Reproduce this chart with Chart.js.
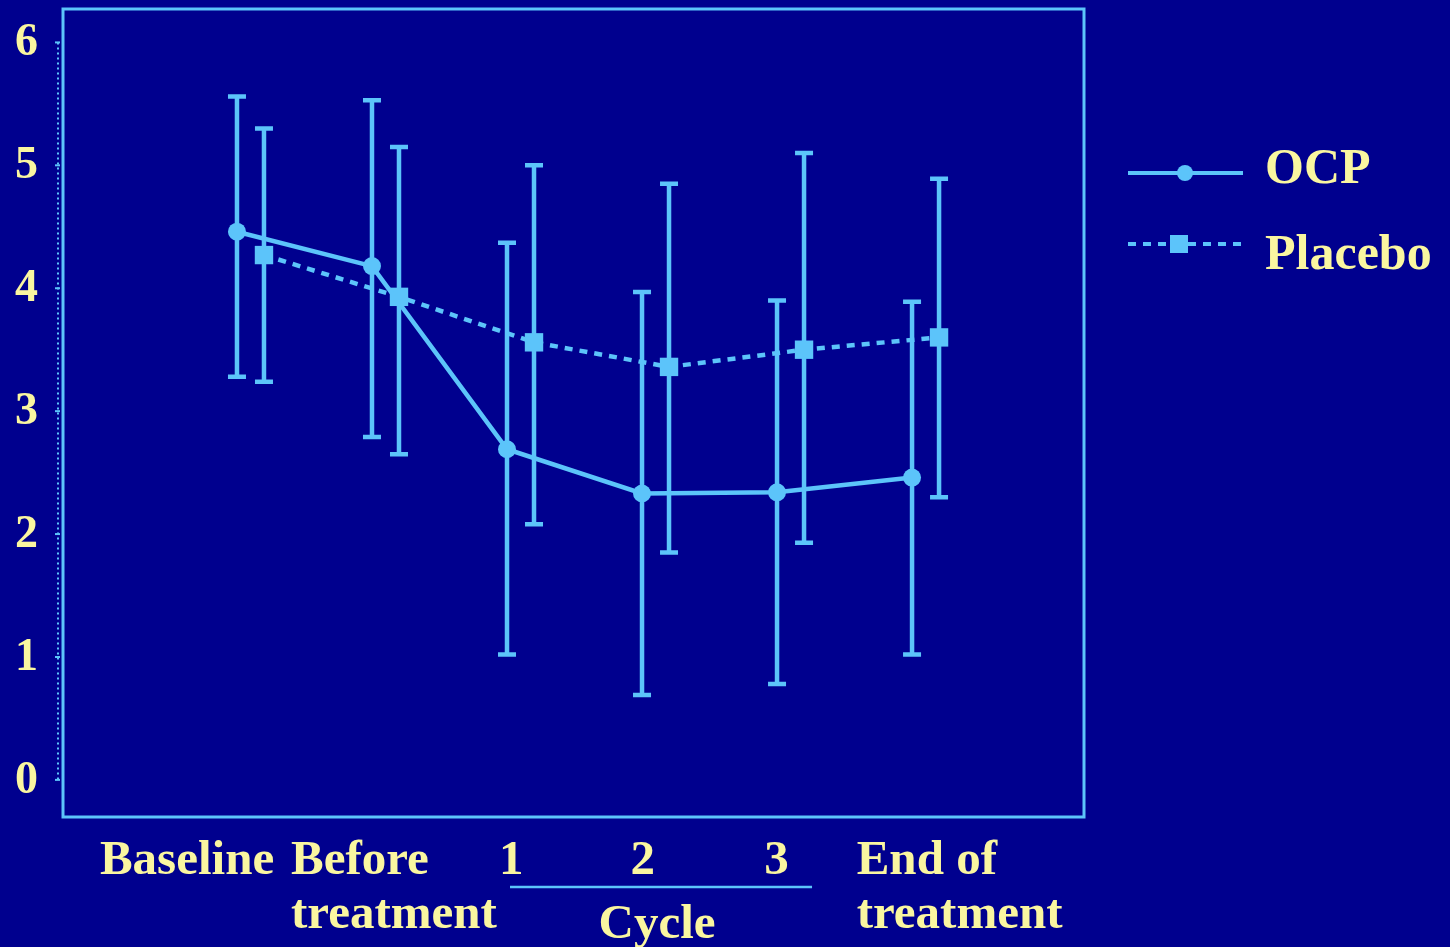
<!DOCTYPE html>
<html>
<head>
<meta charset="utf-8">
<script src="https://cdn.jsdelivr.net/npm/chart.js@4"></script>
<style>
  html, body { margin: 0; padding: 0; background: #00008E; }
  canvas { display: block; }
</style>
</head>
<body>
<canvas id="c" width="1450" height="947"></canvas>
<script>
// ---- Data ----
const categories = [["Baseline"], ["Before", "treatment"], ["1"], ["2"], ["3"], ["End of", "treatment"]];
const ocpMean   = [4.46, 4.18, 2.69, 2.33, 2.34, 2.46];
const ocpUpper  = [5.56, 5.53, 4.37, 3.97, 3.90, 3.89];
const ocpLower  = [3.28, 2.79, 1.02, 0.69, 0.78, 1.02];
const plaMean   = [4.27, 3.93, 3.56, 3.36, 3.50, 3.60];
const plaUpper  = [5.30, 5.15, 5.00, 4.85, 5.10, 4.89];
const plaLower  = [3.24, 2.65, 2.08, 1.85, 1.93, 2.30];
const yTicks    = [0, 1, 2, 3, 4, 5, 6];
const seriesNames = ["OCP", "Placebo"];
const groupLabel = "Cycle";

// ---- Styling ----
const BG = "#00008E";
const LINE = "#5CC4FA";
const TEXT = "#FAF6A0";
const FONT = "'Liberation Serif', 'Times New Roman', serif";
const PLACEBO_SHIFT = 0.2;

const ocpPts = ocpMean.map((v, i) => ({ x: i, y: v }));
const plaPts = plaMean.map((v, i) => ({ x: i + PLACEBO_SHIFT, y: v }));

const decor = {
  id: "decor",
  beforeDraw(chart) {
    const ctx = chart.ctx;
    ctx.save();
    ctx.fillStyle = BG;
    ctx.fillRect(0, 0, chart.width, chart.height);
    ctx.restore();
  },
  beforeDatasetsDraw(chart) {
    const ctx = chart.ctx, xs = chart.scales.x, ys = chart.scales.y, a = chart.chartArea;
    ctx.save();
    // y tick labels (from the y scale's ticks)
    ctx.fillStyle = TEXT;
    ctx.font = "bold 46px " + FONT;
    ctx.textAlign = "right";
    ctx.textBaseline = "middle";
    ys.ticks.forEach(t => ctx.fillText(String(t.value), 38, ys.getPixelForValue(t.value) + 1));
    // dotted axis line with small ticks
    ctx.strokeStyle = LINE;
    ctx.lineWidth = 2;
    ctx.setLineDash([2, 3]);
    ctx.beginPath();
    ctx.moveTo(58, ys.getPixelForValue(6));
    ctx.lineTo(58, ys.getPixelForValue(0));
    ctx.stroke();
    ctx.setLineDash([]);
    yTicks.forEach(t => {
      const y = ys.getPixelForValue(t);
      ctx.beginPath(); ctx.moveTo(55, y); ctx.lineTo(60, y); ctx.stroke();
    });
    // plot box
    ctx.lineWidth = 3;
    ctx.strokeRect(a.left + 1, a.top + 1, a.right - a.left - 2, a.bottom - a.top - 2);
    // error bars
    const bars = (xsArr, up, lo) => {
      xsArr.forEach((xv, i) => {
        const x = xs.getPixelForValue(xv);
        const yt = ys.getPixelForValue(up[i]);
        const yb = ys.getPixelForValue(lo[i]);
        ctx.lineWidth = 4.5;
        ctx.beginPath(); ctx.moveTo(x, yt); ctx.lineTo(x, yb); ctx.stroke();
        ctx.beginPath(); ctx.moveTo(x - 9, yt); ctx.lineTo(x + 9, yt);
        ctx.moveTo(x - 9, yb); ctx.lineTo(x + 9, yb); ctx.stroke();
      });
    };
    bars(ocpPts.map(p => p.x), ocpUpper, ocpLower);
    bars(plaPts.map(p => p.x), plaUpper, plaLower);
    ctx.restore();
  },
  afterDraw(chart) {
    const ctx = chart.ctx, xs = chart.scales.x;
    ctx.save();
    ctx.fillStyle = TEXT;
    ctx.font = "bold 49px " + FONT;
    ctx.textBaseline = "alphabetic";
    ctx.textAlign = "left";
    // left edge of each category label, as offset (in category units) from the category position
    const leftOffsets = [-1.015, -0.6, -0.06, -0.085, -0.095, -0.41];
    categories.forEach((lines, i) => {
      const x = xs.getPixelForValue(i + leftOffsets[i]);
      lines.forEach((t, k) => ctx.fillText(t, x, 874 + k * 54));
    });
    // group bracket for cycles
    const x1 = xs.getPixelForValue(2) + 3, x2 = xs.getPixelForValue(4) + 35;
    ctx.strokeStyle = LINE;
    ctx.lineWidth = 2.5;
    ctx.beginPath(); ctx.moveTo(x1, 887); ctx.lineTo(x2, 887); ctx.stroke();
    ctx.textAlign = "center";
    ctx.fillText(groupLabel, (x1 + x2) / 2 - 4, 938);

    // legend
    ctx.textAlign = "left";
    ctx.textBaseline = "middle";
    ctx.font = "bold 50px " + FONT;
    ctx.lineWidth = 4;
    ctx.beginPath(); ctx.moveTo(1128, 173); ctx.lineTo(1243, 173); ctx.stroke();
    ctx.fillStyle = LINE;
    ctx.beginPath(); ctx.arc(1185, 173, 8, 0, Math.PI * 2); ctx.fill();
    ctx.setLineDash([8, 7]);
    ctx.beginPath(); ctx.moveTo(1128, 244); ctx.lineTo(1245, 244); ctx.stroke();
    ctx.setLineDash([]);
    ctx.fillRect(1170, 235, 18, 18);
    ctx.fillStyle = TEXT;
    ctx.fillText(seriesNames[0], 1265, 170);
    ctx.fillText(seriesNames[1], 1265, 256);
    ctx.restore();
  }
};

new Chart(document.getElementById("c"), {
  type: "line",
  data: {
    datasets: [
      {
        label: seriesNames[0],
        data: ocpPts,
        borderColor: LINE,
        backgroundColor: LINE,
        borderWidth: 4.5,
        pointStyle: "circle",
        pointRadius: 9,
        pointBorderWidth: 0,
        tension: 0
      },
      {
        label: seriesNames[1],
        data: plaPts,
        borderColor: LINE,
        backgroundColor: LINE,
        borderWidth: 4.5,
        borderDash: [8, 7],
        pointStyle: "rect",
        pointRadius: 13,
        pointBorderWidth: 0,
        tension: 0
      }
    ]
  },
  options: {
    responsive: false,
    animation: false,
    events: [],
    layout: { autoPadding: false, padding: { top: 8, bottom: 129, right: 365, left: 0 } },
    plugins: { legend: { display: false }, tooltip: { enabled: false } },
    scales: {
      x: {
        type: "linear",
        display: false,
        min: -1.296,
        max: 6.281
      },
      y: {
        type: "linear",
        min: -0.31,
        max: 6.28,
        afterFit(scale) { scale.width = 62; },
        afterBuildTicks(scale) { scale.ticks = yTicks.map(v => ({ value: v })); },
        grid: { display: false, drawTicks: false },
        border: { display: false },
        ticks: { display: false }
      }
    }
  },
  plugins: [decor]
});
</script>
</body>
</html>
